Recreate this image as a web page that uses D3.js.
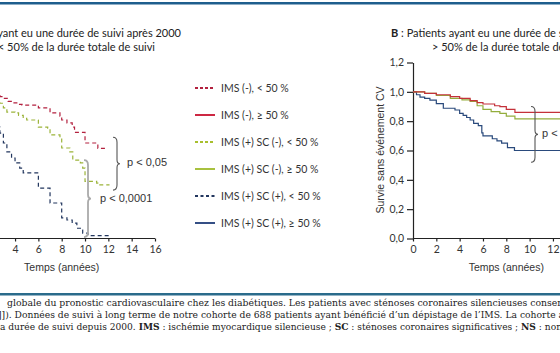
<!DOCTYPE html>
<html>
<head>
<meta charset="utf-8">
<script src="https://cdn.jsdelivr.net/npm/d3@7/dist/d3.min.js"></script>
<style>
  body { margin: 0; background: #fff; }
  svg { display: block; }
  .tick text { font-family: Lato, "Open Sans", sans-serif; font-size: 10.5px; fill: #333; }
  .axis path, .axis line { stroke: #222; stroke-width: 1.2; }
</style>
</head>
<body>
<div id="chart"></div>
<script>
// years
var xTicks = [0, 2, 4, 6, 8, 10, 12, 14, 16];
var yTicks = [0, 0.2, 0.4, 0.6, 0.8, 1.0, 1.2];

// panel A : suivi < 50 % (dashed curves) [temps, survie]
var imsNegLow = [[0,1],[0.8,0.99],[1.6,0.98],[2.2,0.975],[2.7,0.967],[3.0,0.955],[3.4,0.935],[3.8,0.925],[4.3,0.915],[4.6,0.91],[6.0,0.89],[7.0,0.856],[7.85,0.835],[8.0,0.808],[8.45,0.788],[8.9,0.76],[9.1,0.724],[10.0,0.651],[11.1,0.615],[11.96,0.615]];
var scNegLow = [[0,1],[0.8,0.98],[1.6,0.96],[2.2,0.94],[2.7,0.922],[3.0,0.89],[3.3,0.862],[4.0,0.856],[4.3,0.84],[4.7,0.82],[5.0,0.808],[6.0,0.76],[6.8,0.753],[7.0,0.706],[7.85,0.685],[8.0,0.617],[8.7,0.59],[8.95,0.535],[9.6,0.515],[9.8,0.48],[10.0,0.39],[11.0,0.378],[11.1,0.365],[12.1,0.365]];
var scPosLow = [[0,1],[0.5,0.95],[1.0,0.9],[1.5,0.85],[2.0,0.8],[2.4,0.76],[2.7,0.719],[3.0,0.651],[3.3,0.59],[3.7,0.549],[4.0,0.515],[4.4,0.48],[4.7,0.447],[6.0,0.344],[7.0,0.242],[8.0,0.14],[8.45,0.126],[8.9,0.105],[9.3,0.07],[9.7,0.058],[9.8,0.037],[10.25,0.02],[12.1,0.02]];

// panel B : suivi > 50 % (solid curves)
var imsNegHigh = [[0,1],[1.0,0.99],[2.0,0.98],[3.2,0.968],[4.0,0.955],[4.9,0.94],[5.5,0.927],[6.0,0.917],[7.0,0.905],[7.45,0.899],[8.0,0.88],[8.74,0.86],[13.5,0.86]];
var scNegHigh = [[0,1],[1.0,0.99],[2.0,0.975],[3.2,0.956],[4.2,0.945],[4.9,0.935],[5.5,0.905],[6.0,0.88],[6.7,0.865],[7.45,0.853],[8.0,0.835],[8.74,0.815],[13.5,0.815]];
var scPosHigh = [[0,1],[0.3,0.98],[0.6,0.964],[1.0,0.955],[1.45,0.944],[2.0,0.92],[2.6,0.888],[3.6,0.876],[4.0,0.853],[4.3,0.84],[4.6,0.825],[4.9,0.808],[5.2,0.785],[5.6,0.77],[5.9,0.72],[6.0,0.70],[6.8,0.68],[7.2,0.665],[7.6,0.65],[8.1,0.62],[8.7,0.60],[13.5,0.60]];

var legendLabels = ["IMS (-), < 50 %", "IMS (-), \u2265 50 %", "IMS (+) SC (-), < 50 %", "IMS (+) SC (-), \u2265 50 %", "IMS (+) SC (+), < 50 %", "IMS (+) SC (+), \u2265 50 %"];
var legendColors = ["#b3213f", "#c8102e", "#a8bf2e", "#9fba2a", "#22365e", "#1f3c78"];
var legendDash = ["3,2", null, "3,2", null, "3,2.5", null];

var width = 560, height = 353;
var svg = d3.select("#chart").append("svg").attr("width", width).attr("height", height);

// page rules
svg.append("rect").attr("x", 0).attr("y", 2).attr("width", width).attr("height", 2.5).attr("fill", "#1e5e8d");
svg.append("rect").attr("x", 0).attr("y", 293).attr("width", width).attr("height", 2.5).attr("fill", "#2a6b8b");

var xA = d3.scaleLinear().domain([0, 16]).range([-31.6, 155]),
    xB = d3.scaleLinear().domain([0, 16]).range([413, 599.6]),
    y = d3.scaleLinear().domain([0, 1.2]).range([238.5, 62.5]);

var fmt = function (d) { return d3.format(".1f")(d).replace(".", ","); };

// only the ticks that fall inside the page
function visible(x) {
    return xTicks.filter(function (t) { return x(t) >= 5 && x(t) <= width - 5; });
}

// axes panel A (its y axis lies left of the page)
svg.append("g").attr("class", "axis")
    .attr("transform", "translate(0," + y(0) + ")")
    .call(d3.axisBottom(xA).tickValues(visible(xA)).tickSize(3).tickSizeOuter(0).tickPadding(4));
svg.select(".axis .domain").attr("d", "M0,0H" + xA(16));

// axes panel B
svg.append("g").attr("class", "axis")
    .attr("transform", "translate(0," + y(0) + ")")
    .call(d3.axisBottom(xB).tickValues(visible(xB)).tickSize(3).tickSizeOuter(0).tickPadding(4))
    .select(".domain").attr("d", "M" + xB(0) + ",0H" + width);
svg.append("g").attr("class", "axis")
    .attr("transform", "translate(" + xB(0) + ",0)")
    .call(d3.axisLeft(y).tickValues(yTicks).tickSize(6).tickSizeOuter(0).tickPadding(3).tickFormat(fmt));

svg.selectAll(".axis .domain").attr("stroke-width", 1.4);

// curves
function drawCurve(x, data, color, dash) {
    var line = d3.line()
        .x(function (d) { return x(d[0]); })
        .y(function (d) { return y(d[1]); })
        .curve(d3.curveStepAfter);
    svg.append("path")
        .datum(data)
        .attr("d", line)
        .attr("fill", "none")
        .attr("stroke", color)
        .attr("stroke-width", 1.2)
        .attr("stroke-dasharray", dash);
}

drawCurve(xA, imsNegLow, "#b3213f", "4,3");
drawCurve(xA, scNegLow, "#9cb43a", "4,3");
drawCurve(xA, scPosLow, "#22365e", "4,3");

drawCurve(xB, scPosHigh, "#2a4a7c", null);
drawCurve(xB, scNegHigh, "#93ad3c", null);
drawCurve(xB, imsNegHigh, "#c4313a", null);

// curly braces
function brace(xv, y0, y1, tip, color, w) {
    var ym = (y0 + y1) / 2;
    var p = "M" + (xv - 4) + "," + y0 +
        " Q" + xv + "," + y0 + " " + xv + "," + (y0 + 5) +
        " L" + xv + "," + (ym - 4) +
        " Q" + xv + "," + ym + " " + (xv + tip) + "," + ym +
        " Q" + xv + "," + ym + " " + xv + "," + (ym + 4) +
        " L" + xv + "," + (y1 - 5) +
        " Q" + xv + "," + y1 + " " + (xv - 4) + "," + y1;
    svg.append("path").attr("d", p).attr("fill", "none").attr("stroke", color).attr("stroke-width", w);
}
brace(117, y(0.69), y(0.33), 3, "#555", 1.1);
brace(88, y(0.535), y(0.01), 3, "#aaa", 1.8);
brace(535, y(0.9), y(0.52), 3, "#555", 1.1);

var pFont = "'Liberation Sans', Arial, sans-serif";
svg.append("text").attr("x", 127).attr("y", 166).attr("font-family", pFont).attr("font-size", 11).attr("fill", "#333").text("p < 0,05");
svg.append("text").attr("x", 100).attr("y", 202).attr("font-family", pFont).attr("font-size", 11).attr("fill", "#333").text("p < 0,0001");
svg.append("text").attr("x", 542).attr("y", 137).attr("font-family", pFont).attr("font-size", 11).attr("fill", "#333").text("p < 0,0001");

// axis titles
svg.append("text").attr("x", xA(8)).attr("y", 271).attr("text-anchor", "middle")
    .attr("font-family", pFont).attr("font-size", 10.5).attr("fill", "#333").text("Temps (années)");
svg.append("text").attr("x", xB(8)).attr("y", 271).attr("text-anchor", "middle")
    .attr("font-family", pFont).attr("font-size", 10.5).attr("fill", "#333").text("Temps (années)");
svg.append("text").attr("transform", "translate(384,150) rotate(-90)").attr("text-anchor", "middle")
    .attr("font-family", pFont).attr("font-size", 10.5).attr("fill", "#333").text("Survie sans événement CV");

// panel titles
var tFont = "Lato, 'Open Sans', sans-serif";
var tA = svg.append("text").attr("x", 181).attr("y", 37).attr("text-anchor", "end")
    .attr("font-family", tFont).attr("font-size", 11).attr("fill", "#222");
tA.append("tspan").attr("font-weight", "bold").text("A");
tA.append("tspan").text(" : Patients ayant eu une durée de suivi après 2000");
svg.append("text").attr("x", 155).attr("y", 51).attr("text-anchor", "end")
    .attr("font-family", tFont).attr("font-size", 11).attr("fill", "#222").text("< 50% de la durée totale de suivi");

var tB = svg.append("text").attr("x", 391).attr("y", 37)
    .attr("font-family", tFont).attr("font-size", 11).attr("fill", "#222");
tB.append("tspan").attr("font-weight", "bold").text("B");
tB.append("tspan").text(" : Patients ayant eu une durée de suivi après 2000");
svg.append("text").attr("x", 432).attr("y", 51)
    .attr("font-family", tFont).attr("font-size", 11).attr("fill", "#222").text("> 50% de la durée totale de suivi");

// legend
var leg = svg.append("g").selectAll("g").data(legendLabels).enter().append("g")
    .attr("transform", function (d, i) { return "translate(195," + (88 + i * 27) + ")"; });
leg.append("line").attr("x1", 0).attr("x2", 20).attr("y1", 0).attr("y2", 0)
    .attr("stroke", function (d, i) { return legendColors[i]; })
    .attr("stroke-width", 1.8)
    .attr("stroke-dasharray", function (d, i) { return legendDash[i]; });
leg.append("text").attr("x", 26).attr("y", 4)
    .attr("font-family", tFont).attr("font-size", 10.5).attr("fill", "#333")
    .text(function (d) { return d; });

// caption
var cFont = "'DejaVu Serif', serif";
function caption(x, yy, len) {
    return svg.append("text").attr("x", x).attr("y", yy)
        .attr("font-family", cFont).attr("font-size", 9.8).attr("font-stretch", "condensed")
        .attr("fill", "#222")
        .attr("textLength", len).attr("lengthAdjust", "spacingAndGlyphs");
}
caption(7, 306, 560)
    .text("globale du pronostic cardiovasculaire chez les diabétiques. Les patients avec sténoses coronaires silencieuses conserv");
caption(-2, 318, 566)
    .text("]]). Données de suivi à long terme de notre cohorte de 688 patients ayant bénéficié d’un dépistage de l’IMS. La cohorte a");
var c3 = caption(0, 330, 562);
c3.append("tspan").text("a durée de suivi depuis 2000. ");
c3.append("tspan").attr("font-weight", "bold").text("IMS");
c3.append("tspan").text(" : ischémie myocardique silencieuse ; ");
c3.append("tspan").attr("font-weight", "bold").text("SC");
c3.append("tspan").text(" : sténoses coronaires significatives ; ");
c3.append("tspan").attr("font-weight", "bold").text("NS");
c3.append("tspan").text(" : non");
</script>
</body>
</html>
